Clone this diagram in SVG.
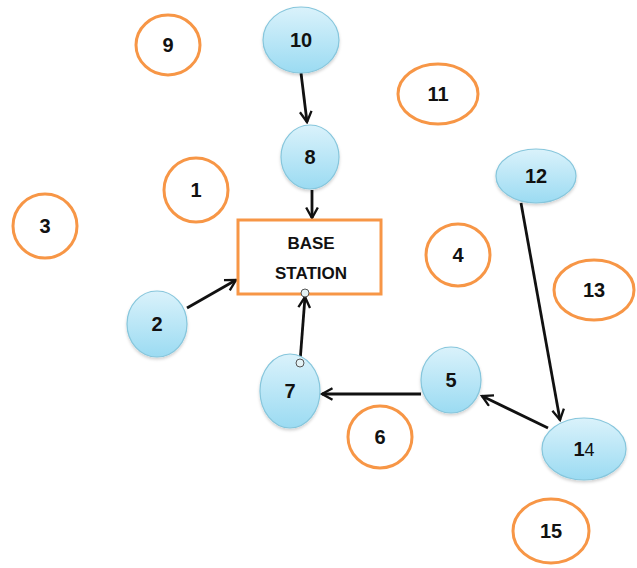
<svg xmlns="http://www.w3.org/2000/svg" width="637" height="568" viewBox="0 0 637 568">
  <style>
    .sensor { fill: url(#blueFill); stroke: #86c6dc; stroke-width: 1.2; filter: url(#soft); }
    .idle { fill: #ffffff; stroke: #f79646; stroke-width: 3; }
    .label { font-family: "Liberation Sans", Arial, sans-serif; font-weight: bold; font-size: 20px; fill: #111; text-anchor: middle; }
    .bs { font-family: "Liberation Sans", Arial, sans-serif; font-weight: bold; font-size: 17px; fill: #111; text-anchor: middle; }
    .link { stroke: #111; stroke-width: 2.8; fill: none; marker-end: url(#arrow); }
    .joint { fill: #e4f2f5; stroke: #555; stroke-width: 1; }
  </style>
  <defs>
    <linearGradient id="blueFill" x1="0" y1="0" x2="0" y2="1">
      <stop offset="0" stop-color="#daf2fb"/>
      <stop offset="1" stop-color="#9bdbf2"/>
    </linearGradient>
    <filter id="soft" x="-20%" y="-20%" width="140%" height="150%">
      <feDropShadow dx="0" dy="2" stdDeviation="1.5" flood-color="#000" flood-opacity="0.18"/>
    </filter>
    <marker id="arrow" viewBox="0 0 12 12" refX="10" refY="6" markerWidth="5" markerHeight="5" markerUnits="strokeWidth" orient="auto">
      <path d="M1,1 L10,6 L1,11" fill="none" stroke="#111" stroke-width="2"/>
    </marker>
  </defs>

  <!-- links -->
  <g id="connectors">
    <line class="link" x1="301" y1="73" x2="307" y2="122"/>
    <line class="link" x1="312" y1="190" x2="312" y2="218"/>
    <line class="link" x1="187" y1="308" x2="236" y2="280"/>
    <line class="link" x1="300" y1="362" x2="305" y2="297"/>
    <line class="link" x1="421" y1="394" x2="322" y2="394"/>
    <line class="link" x1="521" y1="203" x2="560" y2="420"/>
    <line class="link" x1="548" y1="428" x2="482" y2="396"/>
  </g>

  <!-- base station -->
  <g id="base-station">
    <rect x="238" y="220" width="143" height="74" fill="#ffffff" stroke="#f79646" stroke-width="3"/>
    <text class="bs" x="311" y="249">BASE</text>
    <text class="bs" x="311" y="279">STATION</text>
    <circle class="joint" cx="305" cy="293" r="4"/>
  </g>

  <!-- active sensor nodes -->
  <g id="node-10"><ellipse class="sensor" cx="301" cy="40" rx="38" ry="33"/><text class="label" x="301" y="47">10</text></g>
  <g id="node-8"><ellipse class="sensor" cx="310" cy="157" rx="29" ry="32"/><text class="label" x="310" y="164">8</text></g>
  <g id="node-12"><ellipse class="sensor" cx="536" cy="176" rx="40" ry="27"/><text class="label" x="536" y="183">12</text></g>
  <g id="node-2"><ellipse class="sensor" cx="157" cy="324" rx="30" ry="33"/><text class="label" x="157" y="331">2</text></g>
  <g id="node-7"><ellipse class="sensor" cx="290" cy="391" rx="30" ry="37"/><text class="label" x="290" y="398">7</text><circle class="joint" cx="300" cy="363" r="4"/></g>
  <g id="node-5"><ellipse class="sensor" cx="451" cy="380" rx="30" ry="33"/><text class="label" x="451" y="387">5</text></g>
  <g id="node-14"><ellipse class="sensor" cx="584" cy="449" rx="42" ry="31"/><text class="label" x="584" y="456">1<tspan font-weight="normal" font-size="18">4</tspan></text></g>

  <!-- idle nodes -->
  <g id="node-9"><ellipse class="idle" cx="168" cy="45" rx="32" ry="30"/><text class="label" x="168" y="52">9</text></g>
  <g id="node-11"><ellipse class="idle" cx="438" cy="94" rx="40" ry="30"/><text class="label" x="438" y="101">11</text></g>
  <g id="node-1"><ellipse class="idle" cx="196" cy="190" rx="32" ry="32"/><text class="label" x="196" y="197">1</text></g>
  <g id="node-3"><ellipse class="idle" cx="45" cy="226" rx="32" ry="32"/><text class="label" x="45" y="233">3</text></g>
  <g id="node-4"><ellipse class="idle" cx="458" cy="255" rx="32" ry="31"/><text class="label" x="458" y="262">4</text></g>
  <g id="node-13"><ellipse class="idle" cx="594" cy="290" rx="40" ry="30"/><text class="label" x="594" y="297">13</text></g>
  <g id="node-6"><ellipse class="idle" cx="380" cy="437" rx="32" ry="31"/><text class="label" x="380" y="444">6</text></g>
  <g id="node-15"><ellipse class="idle" cx="551" cy="531" rx="38" ry="32"/><text class="label" x="551" y="538">15</text></g>
</svg>
